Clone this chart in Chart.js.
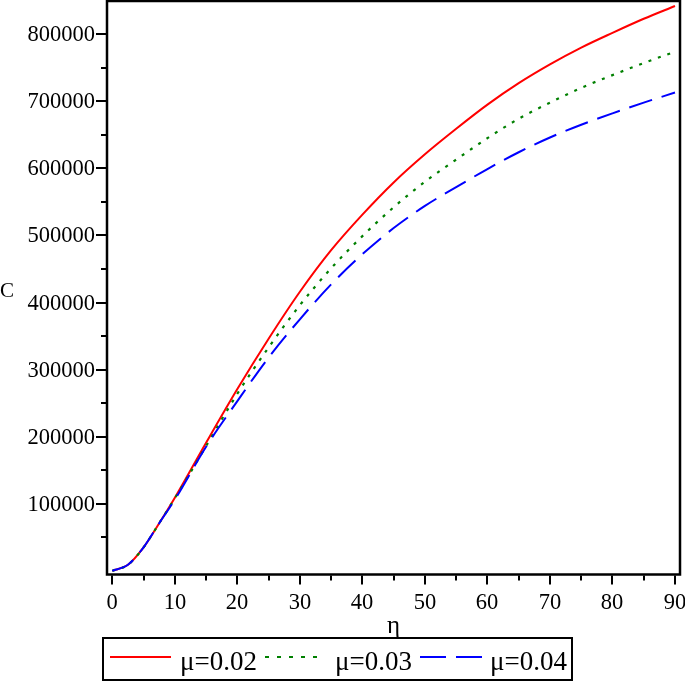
<!DOCTYPE html>
<html>
<head>
<meta charset="utf-8">
<script src="https://cdn.jsdelivr.net/npm/chart.js@4/dist/chart.umd.min.js"></script>
<style>
  html, body { margin: 0; padding: 0; background: #fff; }
  #wrap { width: 685px; height: 681px; }
</style>
</head>
<body>
<div id="wrap"><canvas id="c" width="685" height="681"></canvas></div>
<script>
// eta values and C(eta) for each mu
const eta = [0, 2.5, 5, 7.5, 10, 15, 20, 25, 30, 35, 40, 45, 50, 55, 60, 65, 70, 75, 80, 85, 90];
const mu002 = [0, 9000, 35000, 71000, 109000, 191000, 271000, 346000, 416000, 478000, 531000, 579000, 621000, 659000, 695000, 727000, 755000, 780000, 802000, 823000, 842000];
const mu003 = [0, 9000, 35000, 71000, 108000, 186000, 264000, 333000, 396000, 451000, 499000, 542000, 580000, 613000, 645000, 674000, 698000, 720000, 739000, 757000, 774000];
const mu004 = [0, 9000, 35000, 71000, 106000, 185000, 253000, 318000, 375000, 427000, 472000, 511000, 544000, 572000, 599000, 624000, 646000, 665000, 682000, 698000, 713000];
const seriesLabels = ['\u03bc=0.02', '\u03bc=0.03', '\u03bc=0.04'];

// tick labels
const xTicks = [0, 10, 20, 30, 40, 50, 60, 70, 80, 90];
const yTicks = [100000, 200000, 300000, 400000, 500000, 600000, 700000, 800000];
const xTitle = '\u03b7';
const yTitle = 'C';

const serif = "'Liberation Serif', 'Times New Roman', serif";

function pts(ys) {
    return eta.map((x, i) => ({ x: x, y: ys[i] }));
}

// maple style box, ticks, labels and legend
const maplePlot = {
    id: 'maplePlot',
    afterDraw(chart) {
        const ctx = chart.ctx;
        const a = chart.chartArea;
        const xs = chart.scales.x;
        const ys = chart.scales.y;
        ctx.save();
        ctx.strokeStyle = '#000';
        ctx.fillStyle = '#000';

        ctx.lineWidth = 2.5;
        ctx.strokeRect(a.left, a.top, a.right - a.left, a.bottom - a.top);

        ctx.lineWidth = 2;
        ctx.font = '22.5px ' + serif;

        // y axis: major + minor ticks
        ctx.textAlign = 'right';
        ctx.textBaseline = 'middle';
        yTicks.forEach((v) => {
            const py = Math.round(ys.getPixelForValue(v));
            ctx.beginPath();
            ctx.moveTo(a.left - 11, py);
            ctx.lineTo(a.left, py);
            ctx.stroke();
            ctx.fillText(String(v), a.left - 12, py + 1);
            const pm = Math.round(ys.getPixelForValue(v - 50000));
            ctx.beginPath();
            ctx.moveTo(a.left - 6, pm);
            ctx.lineTo(a.left, pm);
            ctx.stroke();
        });

        // x axis
        ctx.textAlign = 'center';
        xTicks.forEach((v, i) => {
            const px = Math.round(xs.getPixelForValue(v));
            ctx.beginPath();
            ctx.moveTo(px, a.bottom + 1);
            ctx.lineTo(px, a.bottom + 10);
            ctx.stroke();
            ctx.fillText(String(v), px, 603);
            if (i > 0) {
                const pm = Math.round(xs.getPixelForValue(v - 5));
                ctx.beginPath();
                ctx.moveTo(pm, a.bottom + 1);
                ctx.lineTo(pm, a.bottom + 6);
                ctx.stroke();
            }
        });

        ctx.textAlign = 'left';
        ctx.textBaseline = 'alphabetic';
        ctx.font = '21px ' + serif;
        ctx.fillText(yTitle, 0, 297);
        ctx.textAlign = 'center';
        ctx.font = '25px ' + serif;
        ctx.fillText(xTitle, (a.left + a.right) / 2, 633);

        // legend
        ctx.lineWidth = 2;
        ctx.strokeRect(103, 638, 469, 42);
        const items = [
            { x0: 110, x1: 171, tx: 180 },
            { x0: 265, x1: 322, tx: 335 },
            { x0: 420, x1: 482, tx: 490 }
        ];
        ctx.font = '27px ' + serif;
        ctx.textAlign = 'left';
        chart.data.datasets.forEach((ds, i) => {
            const it = items[i];
            ctx.save();
            ctx.strokeStyle = ds.borderColor;
            ctx.lineWidth = 2;
            ctx.setLineDash(ds.legendDash);
            ctx.beginPath();
            ctx.moveTo(it.x0, 657);
            ctx.lineTo(it.x1, 657);
            ctx.stroke();
            ctx.restore();
            ctx.fillText(ds.label, it.tx, 670);
        });
        ctx.restore();
    }
};

const data = {
    datasets: [
        {
            label: seriesLabels[0],
            data: pts(mu002),
            borderColor: '#ff0000',
            borderWidth: 2,
            borderDash: [],
            legendDash: [],
            order: 2
        },
        {
            label: seriesLabels[1],
            data: pts(mu003),
            borderColor: '#008000',
            borderWidth: 2.2,
            borderDash: [3, 7],
            legendDash: [4, 8],
            order: 1
        },
        {
            label: seriesLabels[2],
            data: pts(mu004),
            borderColor: '#0000ff',
            borderWidth: 2,
            borderDash: [24, 10],
            legendDash: [26, 10],
            order: 0
        }
    ]
};

const config = {
    type: 'line',
    data,
    options: {
        responsive: false,
        animation: false,
        maintainAspectRatio: false,
        layout: { padding: { top: 1, right: 5, left: 107, bottom: 106.5 } },
        elements: {
            point: { radius: 0 },
            line: { cubicInterpolationMode: 'monotone', fill: false }
        },
        plugins: {
            legend: { display: false },
            tooltip: { enabled: false }
        },
        scales: {
            x: { type: 'linear', min: -0.85, max: 90.8, display: false },
            y: { type: 'linear', min: -5500, max: 849500, display: false }
        }
    },
    plugins: [maplePlot]
};

const chart = new Chart(document.getElementById('c'), config);
</script>
</body>
</html>
